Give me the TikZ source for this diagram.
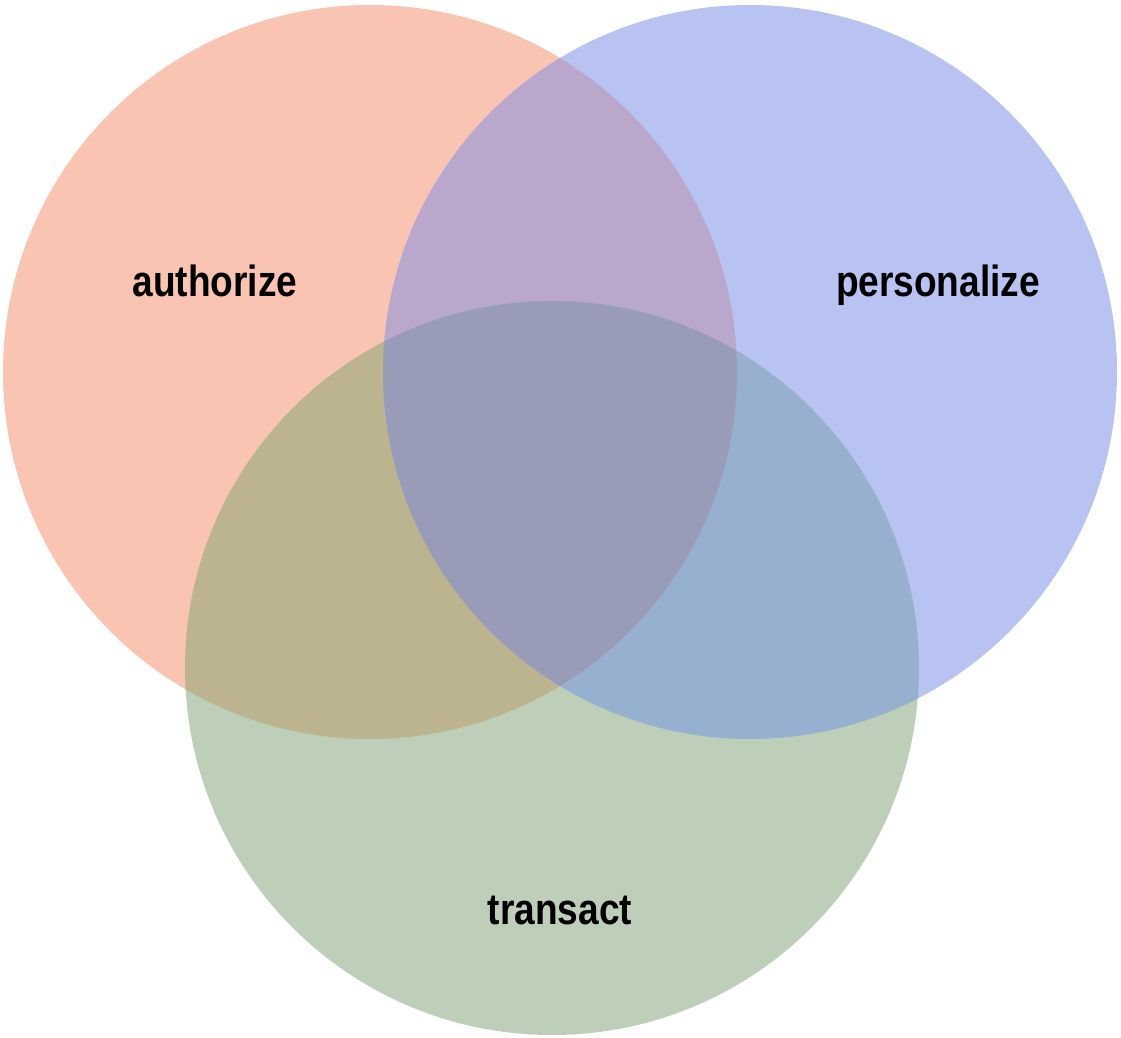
\documentclass[tikz,border=0pt]{standalone}
\usepackage{fontspec}
\newfontfamily\lblfont{Liberation Sans}[FakeStretch=0.85]
\definecolor{cR}{HTML}{F9C4B1}
\definecolor{cB}{HTML}{B8C3F2}
\definecolor{cG}{HTML}{BDCFB9}
\definecolor{cRB}{HTML}{B9A8CB}
\definecolor{cRG}{HTML}{BCB48E}
\definecolor{cBG}{HTML}{98B0D0}
\definecolor{cRBG}{HTML}{999CB9}
\tikzset{lbl/.style={font=\lblfont\bfseries\fontsize{21.8pt}{21.8pt}\selectfont, text=black, anchor=base, inner sep=0pt}}
\begin{document}
\begin{tikzpicture}[x=0.5pt,y=-0.5pt]
\useasboundingbox (0,0) rectangle (1121,1038);
\coordinate (R) at (370,372);
\coordinate (B) at (750,372);
\coordinate (G) at (552,668);
\def\rad{183.5pt}
\fill[cR] (R) circle[radius=\rad];
\fill[cB] (B) circle[radius=\rad];
\fill[cG] (G) circle[radius=\rad];
\begin{scope}
  \clip (R) circle[radius=\rad];
  \fill[cRB] (B) circle[radius=\rad];
  \fill[cRG] (G) circle[radius=\rad];
\end{scope}
\begin{scope}
  \clip (B) circle[radius=\rad];
  \fill[cBG] (G) circle[radius=\rad];
\end{scope}
\begin{scope}
  \clip (R) circle[radius=\rad];
  \clip (B) circle[radius=\rad];
  \fill[cRBG] (G) circle[radius=\rad];
\end{scope}
\node[lbl] (auth) at (215,297) {authorize};
\node[lbl] (pers) at (938,297) {personalize};
\node[lbl] (trans) at (560,924) {transact};
\end{tikzpicture}
\end{document}
